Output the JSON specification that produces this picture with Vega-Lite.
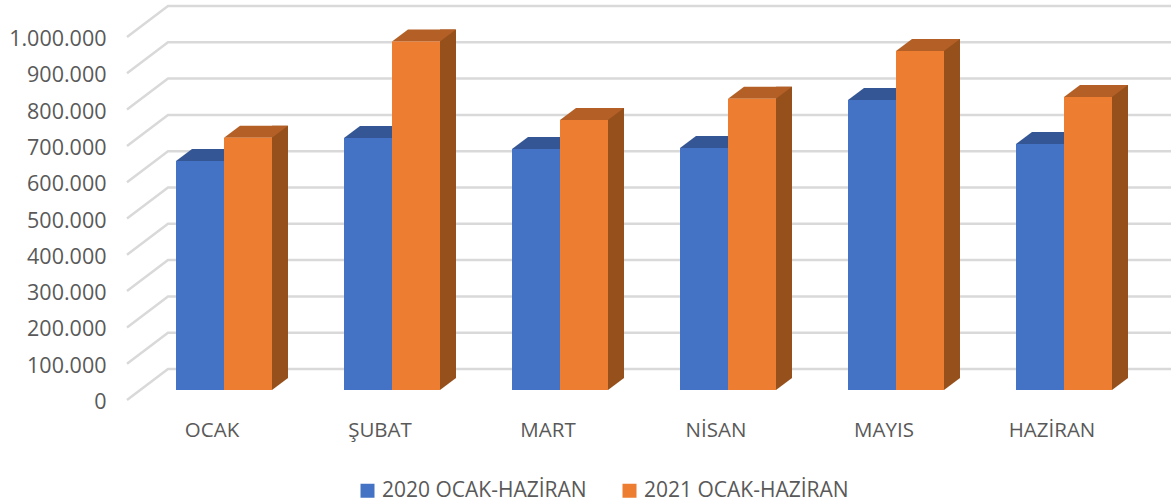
{
"$schema":"https://vega.github.io/schema/vega-lite/v6.json",
"width":1008,"height":363,
"autosize":"none",
"padding":{"left":140,"top":27,"right":23,"bottom":113},
"background":"white",
"datasets":{
"bars":[
{"ay":"OCAK","seri":"2020 OCAK-HAZİRAN","deger":631000},
{"ay":"OCAK","seri":"2021 OCAK-HAZİRAN","deger":695000},
{"ay":"ŞUBAT","seri":"2020 OCAK-HAZİRAN","deger":694000},
{"ay":"ŞUBAT","seri":"2021 OCAK-HAZİRAN","deger":960000},
{"ay":"MART","seri":"2020 OCAK-HAZİRAN","deger":664000},
{"ay":"MART","seri":"2021 OCAK-HAZİRAN","deger":744000},
{"ay":"NİSAN","seri":"2020 OCAK-HAZİRAN","deger":667000},
{"ay":"NİSAN","seri":"2021 OCAK-HAZİRAN","deger":802000},
{"ay":"MAYIS","seri":"2020 OCAK-HAZİRAN","deger":799000},
{"ay":"MAYIS","seri":"2021 OCAK-HAZİRAN","deger":934000},
{"ay":"HAZİRAN","seri":"2020 OCAK-HAZİRAN","deger":678000},
{"ay":"HAZİRAN","seri":"2021 OCAK-HAZİRAN","deger":807000}
],
"grid":[{"deger":0},{"deger":100000},{"deger":200000},{"deger":300000},{"deger":400000},{"deger":500000},{"deger":600000},{"deger":700000},{"deger":800000},{"deger":900000},{"deger":1000000}]
},
"data":{"name":"bars"},
"encoding":{
"x":{"field":"ay","type":"nominal","sort":["OCAK","ŞUBAT","MART","NİSAN","MAYIS","HAZİRAN"],"scale":{"paddingInner":0.4286,"paddingOuter":0.2143},
"axis":{"title":null,"ticks":false,"domain":false,"grid":false,"labelAngle":0,"labelOffset":-12,"labelPadding":30,"labelFont":"Open Sans","labelFontSize":20.5,"labelColor":"#595959"}},
"y":{"field":"deger","type":"quantitative","scale":{"domain":[0,1000000],"nice":false},
"axis":{"title":null,"ticks":false,"domain":false,"grid":false,"tickCount":11,"values":[0,100000,200000,300000,400000,500000,600000,700000,800000,900000,1000000],"labelPadding":34,"labelOverlap":false,"labelFlush":false,"labelOffset":12.5,"labelFont":"Open Sans","labelFontSize":21.5,"labelColor":"#595959","labelExpr":"replace(format(datum.value,','),/,/g,'.')"}}
},
"layer":[
{"data":{"name":"grid"},
"mark":{"type":"point","filled":false,"size":4,"shape":"M-97 10L-56 -21L960 -21","stroke":"#D9D9D9","strokeWidth":2.5,"opacity":1},
"encoding":{"x":{"datum":"OCAK"}}},
{"transform":[{"filter":"datum.seri=='2021 OCAK-HAZİRAN'"}],
"mark":{"type":"bar","width":16,"xOffset":56,"yOffset":-12,"y2Offset":-12,"color":"#96501C"},
"encoding":{"y2":{"datum":0}}},
{"transform":[{"filter":"datum.seri=='2021 OCAK-HAZİRAN'"}],
"mark":{"type":"point","filled":true,"size":4,"shape":"M48 0L64 -12L48 -12Z","opacity":1,"strokeWidth":0,"color":"#96501C"},
"encoding":{"y":{"datum":0}}},
{"mark":{"type":"point","filled":true,"size":4,"shape":"M-24 0L24 0L40 -12L-8 -12Z","opacity":1,"strokeWidth":0},
"encoding":{"xOffset":{"field":"seri","type":"nominal"},
"color":{"field":"seri","type":"nominal","legend":null,"scale":{"range":["#345695","#B35F25"]}}}},
{"mark":{"type":"bar"},
"encoding":{"xOffset":{"field":"seri","type":"nominal"},
"color":{"field":"seri","type":"nominal","scale":{"range":["#4472C4","#ED7D31"]},
"legend":{"title":null,"orient":"none","legendX":217,"legendY":453,"direction":"horizontal","symbolType":"square","symbolSize":196,"symbolStrokeWidth":0,"labelFont":"Open Sans","labelFontSize":21,"labelColor":"#595959","labelLimit":400,"columns":2,"columnPadding":32,"symbolOpacity":1}}}}
],
"resolve":{"scale":{"color":"independent"}},
"config":{"view":{"stroke":null}}
}
